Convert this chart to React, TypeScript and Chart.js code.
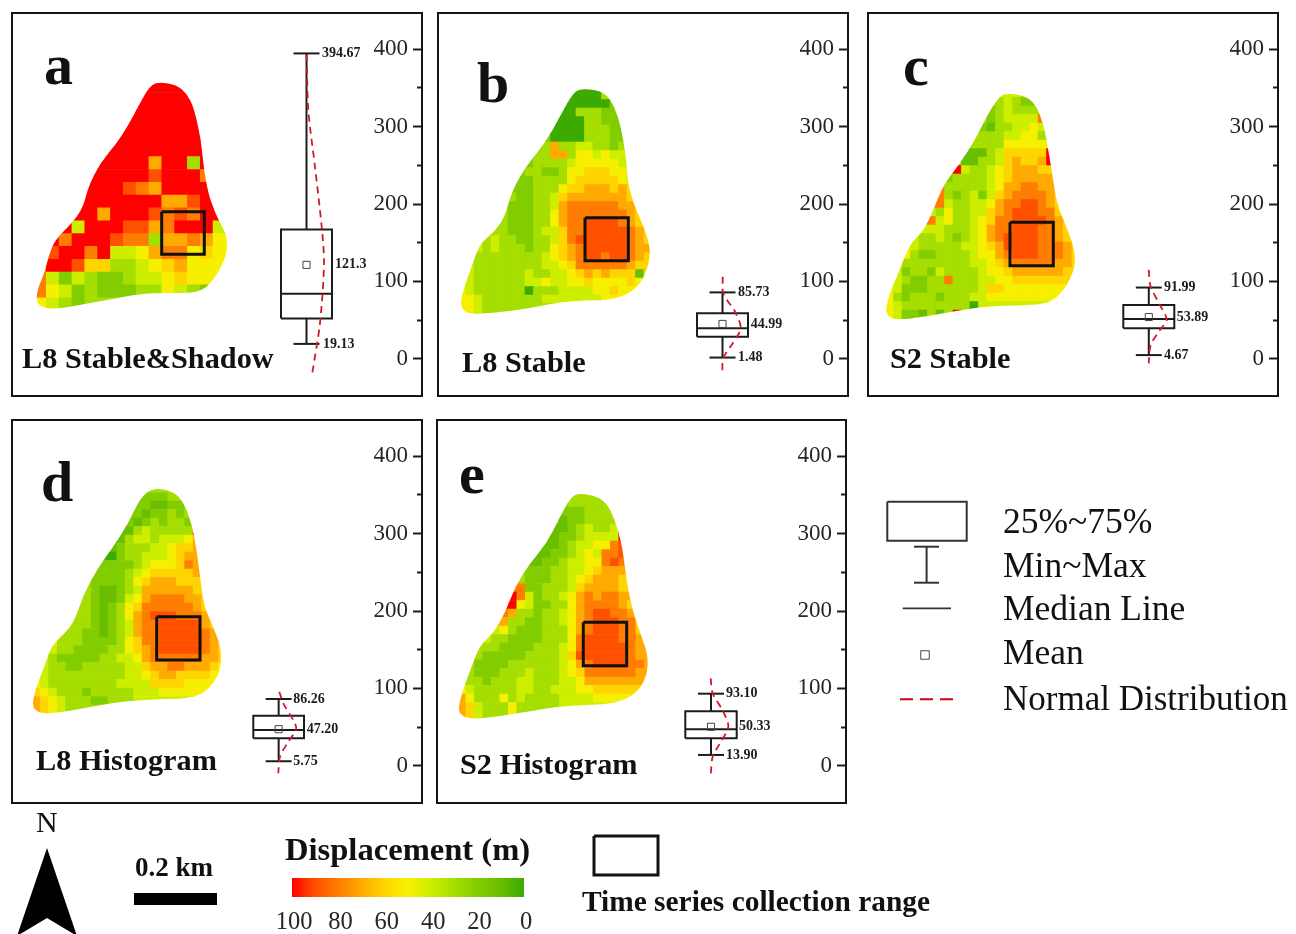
import React, { useEffect, useRef } from "react";
import { Chart, registerables } from "chart.js";

Chart.register(...registerables);

const SERIF = "'Liberation Serif', 'Times New Roman', serif";

// --- Axis ticks ---
const majorTicks = [0, 100, 200, 300, 400];
const minorTicks = [50, 150, 250, 350];
const colorbarTicks = [100, 80, 60, 40, 20, 0];

// --- Box statistics: min, q1, median, q3, max, mean ---
const boxA = [19.13, 52, 84, 167, 394.67, 121.3];
const boxB = [1.48, 28.4, 39.5, 58.7, 85.73, 44.99];
const boxC = [4.67, 39.3, 51.3, 69.4, 91.99, 53.89];
const boxD = [5.75, 35.4, 46.2, 64.6, 86.26, 47.2];
const boxE = [13.9, 35.4, 47.1, 70.3, 93.1, 50.33];

// --- Normal distribution curves ---
const curveAx = [306.7, 308.3, 315, 321.7, 324, 320, 312.3];
const curveAy = [392.7, 321.6, 247.9, 170.3, 123.7, 46.2, -18.4];
const curveBx = [722.7, 723.3, 735, 740.7, 732.7, 723.3, 722.3];
const curveBy = [106, 84.6, 60.8, 39.3, 19.9, 0.5, -21.1];
const curveCx = [1148.7, 1150.7, 1160, 1166.7, 1160, 1150.7, 1148.7];
const curveCy = [114.7, 93.1, 69.4, 50, 37.1, 17.7, -6];
const curveDx = [279.3, 283.3, 295, 296, 288.3, 280, 278.3];
const curveDy = [95.7, 80.7, 54.8, 46.2, 31, 11.6, -9.8];
const curveEx = [710.7, 712.7, 723.3, 728.3, 720, 712.7, 710.7];
const curveEy = [113, 93.6, 69.8, 50.4, 29, 11.6, -12];

// --- Displacement grids: one character per cell, tens of metres (X = 100) ---
const gridA = [
  "XXXX XXXX XXXX XXXX", "XXXX XXXX XXXX XXXX", "XXXX XXXX XXXX XXXX",
  "XXXX XXXX XXXX XXXX", "XXXX XXXX XXXX XXXX", "XXXX XXXX XXXX XXXX",
  "XXXX XXXX X7XX 3XXX", "XXXX XXXX X9XX X8XX", "XXXX XXX9 87XX XXXX",
  "XXXX XXXX XX77 9XXX", "XXXX X7XX X989 8XXX", "XXX4 XXX9 978X XX44",
  "XX8X XX98 8377 8755", "X9XX 8X44 5788 5655", "8XX9 6633 4567 5555",
  "8424 3223 4456 5555", "8542 3222 3354 3245", "5432 3333 3333 3333",
];
const gridB = [
  "00000 00000 00000 00333 333", "00000 00000 00000 00333 333", "00000 00000 00000 00022 222",
  "00000 00000 00003 33222 222", "00000 00000 00000 33222 222", "00000 00000 00000 33322 222",
  "22222 22222 20000 33322 222", "33333 33333 37334 43323 333", "33333 33333 37735 54544 444",
  "22222 22223 33345 55554 444", "33333 33233 22355 66655 444", "33333 33223 33356 66665 455",
  "33333 32223 33566 77767 655", "33333 33223 34677 77777 666", "33333 32223 34788 88887 766",
  "33333 32223 35788 88888 765", "44443 32223 35788 99998 765", "33333 32223 44688 99999 876",
  "44434 33223 34689 99999 876", "44434 33323 35678 99999 877", "44333 33333 45678 99899 876",
  "44333 33333 44568 88888 766", "44333 33343 34456 76766 616", "54333 33344 54455 65555 655",
  "54333 33303 33444 45565 555", "55433 33333 44444 44555 555", "55433 33333 33344 44444 444",
  "55433 33333 33333 33333 333",
];
const gridC = [
  "44444 44444 44444 43333 333", "33333 33333 33334 32222 222", "22222 22222 22234 33333 333",
  "22222 22222 23234 44484 444", "22222 22222 22133 44544 444", "33333 33333 33334 45534 444",
  "33333 33333 33335 55555 555", "11111 11111 11346 6666X 666", "33333 33331 13346 7667X 777",
  "33333 333X4 33456 77766 666", "33333 33233 33456 77777 666", "88888 88333 33457 78877 666",
  "88888 88323 42467 88887 666", "88888 88433 44578 89987 666", "44444 43533 44678 99988 666",
  "88888 84533 45688 99998 766", "44444 44333 45788 99988 766", "44443 34323 45789 99988 766",
  "55543 33334 45679 99988 876", "55532 23333 45578 99988 876", "55333 33333 44567 88888 776",
  "44233 24333 34556 77777 766", "44322 33833 34455 66666 665", "54222 33333 34665 55555 555",
  "53233 32333 44555 55555 555", "54333 33333 04444 44444 444", "54221 313X3 33333 33333 333",
  "54221 31333 33333 33333 333",
];
const gridD = [
  "33333 33333 33333 33333 333", "22222 22222 22222 23333 333", "22222 22222 22221 12233 333",
  "22222 22222 22212 23233 333", "22222 22222 22123 2332X 666", "11111 11111 11343 3333X 666",
  "11111 11111 13443 44457 777", "11111 11111 23334 45667 777", "00000 00000 23344 45677 777",
  "22222 22222 22345 55687 666", "22222 22222 23456 66667 666", "33333 33222 23567 77666 666",
  "33333 33211 23477 77776 666", "33333 33211 24578 88877 666", "33333 33212 35688 88887 665",
  "44444 33212 35789 99888 766", "44443 33212 34788 99999 766", "33333 32212 34788 99999 876",
  "55533 32222 35688 99999 876", "44433 22223 35678 99999 876", "44322 22233 44578 88888 776",
  "44332 23333 34467 78877 765", "44333 33333 34456 77666 655", "54333 33333 44446 66655 555",
  "65433 32333 33444 55555 555", "76543 33223 33444 44444 444", "76543 33333 33344 44444 444",
  "65433 33333 33333 33333 333",
];
const gridE = [
  "33333 33333 33333 33333 333", "22222 22222 22233 33332 222", "22222 22222 22222 33332 222",
  "11111 11111 12122 33334 444", "11111 11111 11123 4334X 444", "11111 11111 11223 4444X 444",
  "11111 11111 11234 45589 777", "11111 11111 12234 54889 777", "11111 11111 22344 55898 777",
  "22222 22222 23344 56777 666", "22222 22322 23345 67776 666", "88888 88822 33346 77776 666",
  "XXXXX XX842 33457 87887 777", "XXXXX XX542 23357 88887 666", "88888 87332 33457 89988 766",
  "77777 73322 33457 89998 866", "44444 53222 33357 89998 866", "44443 32222 33358 99998 876",
  "44333 22223 33458 99999 877", "43322 22233 33469 99999 877", "43222 23333 33457 89999 887",
  "43222 33343 33456 88888 877", "43323 33443 33445 77777 776", "54333 33443 34445 56666 665",
  "75333 53433 33444 45555 555", "76433 35333 33444 44444 444", "76433 35333 33333 33333 333",
  "76433 35333 33333 33333 333",
];

// --- Slide outlines, as (x, y) pairs measured at 3x from each panel's corner ---
const outlineA = [470,245,530,255,560,280,580,320,595,380,605,440,612,510,625,580,640,625,658,665,678,700,683,745,670,790,640,840,605,875,540,880,470,878,400,885,320,900,240,915,160,928,120,920,108,900,115,860,135,815,145,770,165,720,220,665,250,620,265,560,300,490,350,430,385,375,420,310,445,265];
const outlineB = [450,265,510,272,540,295,565,350,580,420,590,490,592,540,610,610,635,665,655,720,662,770,640,840,600,880,540,900,470,902,390,905,300,925,200,938,110,943,90,915,100,870,125,800,150,730,190,700,225,650,245,575,290,495,345,430,390,350,425,285];
const outlineC = [435,280,490,285,525,310,550,370,565,450,578,530,590,610,615,670,640,735,647,790,630,840,600,885,560,912,470,917,390,918,300,930,200,950,110,960,75,945,85,890,115,820,150,730,190,695,220,630,250,555,300,490,345,420,385,340,415,295];
const outlineD = [460,232,520,245,550,275,575,340,590,420,600,500,612,590,640,650,665,720,660,790,620,845,570,865,480,868,390,872,300,885,200,905,130,912,95,895,105,840,130,780,155,705,195,670,225,630,250,555,290,480,340,410,385,340,420,265];
const outlineE = [445,248,510,262,540,295,565,360,580,430,590,520,610,610,635,680,655,740,650,800,620,850,560,880,470,885,380,890,290,905,200,920,120,928,82,910,95,850,125,770,150,705,190,670,225,610,255,530,300,460,350,400,385,330,420,265];

// --- Colour ramp of the displacement scale ---
const rampStops: [number, number[]][] = [
  [0, [60, 170, 0]], [10, [105, 190, 0]], [20, [130, 205, 0]], [30, [165, 222, 0]], [40, [206, 238, 0]], [50, [246, 240, 0]],
  [60, [255, 213, 0]], [70, [255, 170, 0]], [80, [255, 125, 0]], [90, [255, 80, 0]], [100, [255, 0, 0]],
];
function rampColor(v: number) {
  for (let i = 1; i < rampStops.length; i++) {
    const [v1, c1] = rampStops[i];
    const [v0, c0] = rampStops[i - 1];
    if (v <= v1) {
      const t = (v - v0) / (v1 - v0);
      const c = c0.map((a, k) => Math.round(a + (c1[k] - a) * t));
      return `rgb(${c[0]},${c[1]},${c[2]})`;
    }
  }
  return "rgb(255,0,0)";
}

// --- Layout of each panel, in page pixels ---
const panels = [
  { frame: [11, 12, 423, 397], zero: 358.7, box: [281, 332, 13], zoom: [0, 0], grid: gridA, cell: 12.83, gridAt: [100.5, 239], outline: outlineA, square: [161.7, 211.7, 204.3, 254.3], stats: boxA, cx: curveAx, cy: curveAy, labels: ["394.67", "121.3", "19.13"], labelX: [322, 335, 323] },
  { frame: [437, 12, 849, 397], zero: 358.7, box: [697, 748, 13], zoom: [430, 0], grid: gridB, cell: 8.5, gridAt: [81, 248], outline: outlineB, square: [585, 217.7, 628.3, 260.7], stats: boxB, cx: curveBx, cy: curveBy, labels: ["85.73", "44.99", "1.48"], labelX: [738, 750.7, 738] },
  { frame: [867, 12, 1279, 397], zero: 358.7, box: [1123.3, 1174.3, 13], zoom: [860, 0], grid: gridC, cell: 8.5, gridAt: [75, 267.5], outline: outlineC, square: [1010, 222.3, 1053.3, 265.7], stats: boxC, cx: curveCx, cy: curveCy, labels: ["91.99", "53.89", "4.67"], labelX: [1164, 1176.7, 1164] },
  { frame: [11, 419, 423, 804], zero: 765.7, box: [253.3, 304, 13], zoom: [0, 410], grid: gridD, cell: 8.5, gridAt: [95, 222], outline: outlineD, square: [156.7, 616.7, 200, 660], stats: boxD, cx: curveDx, cy: curveDy, labels: ["86.26", "47.20", "5.75"], labelX: [293.3, 306.7, 293.3] },
  { frame: [436, 419, 847, 804], zero: 765.7, box: [685.3, 736.7, 13], zoom: [430, 410], grid: gridE, cell: 8.5, gridAt: [82, 240], outline: outlineE, square: [583.3, 622.3, 626.7, 665.7], stats: boxE, cx: curveEx, cy: curveEy, labels: ["93.10", "50.33", "13.90"], labelX: [726, 739, 726] },
];
const PX_PER_UNIT = 0.7735;
const BORDER = 2;
const INK = "#1c1c1c";
const RED = "#d4182c";

function line(xs: number[], ys: number[], yAxisID: string, extra: any = {}) {
  return {
    data: xs.map((x, i) => ({ x, y: ys[i] })),
    showLine: true,
    pointRadius: 0,
    borderColor: INK,
    borderWidth: 2,
    backgroundColor: "transparent",
    yAxisID,
    ...extra,
  };
}

function decodeGrid(rows: string[], at: number[], zoom: number[], cell: number) {
  const cells: { x: number; y: number; v: number }[] = [];
  rows.forEach((row, r) => {
    row.replace(/ /g, "").split("").forEach((ch, c) => {
      cells.push({
        x: zoom[0] + at[0] / 3 + (c + 0.5) * cell,
        y: zoom[1] + at[1] / 3 + (r + 0.5) * cell,
        v: ch === "X" ? 100 : Number(ch) * 10,
      });
    });
  });
  return cells;
}

function panelConfig(p: (typeof panels)[number]) {
  const [left, top, right, bottom] = p.frame;
  const iL = left + BORDER, iT = top + BORDER, iR = right - BORDER, iB = bottom - BORDER;
  const yMin = (p.zero - iB) / PX_PER_UNIT;
  const yMax = (p.zero - iT) / PX_PER_UNIT;
  const [bL, bR, cap] = p.box;
  const mid = (bL + bR) / 2;
  const [mn, q1, med, q3, mx, mean] = p.stats;
  const [sL, sT, sR, sB] = p.square;

  const outlinePx: number[][] = [];
  for (let i = 0; i < p.outline.length; i += 2) {
    outlinePx.push([p.zoom[0] + p.outline[i] / 3, p.zoom[1] + p.outline[i + 1] / 3]);
  }

  const clipPlugin = {
    id: "slideClip",
    beforeDatasetDraw(chart: any, args: any) {
      if (args.index !== 0) return;
      const { ctx, scales } = chart;
      const pts = outlinePx.map(([x, y]) => [scales.x.getPixelForValue(x), scales.my.getPixelForValue(y)]);
      ctx.save();
      ctx.beginPath();
      const n = pts.length;
      ctx.moveTo((pts[n - 1][0] + pts[0][0]) / 2, (pts[n - 1][1] + pts[0][1]) / 2);
      for (let i = 0; i < n; i++) {
        const a = pts[i], b = pts[(i + 1) % n];
        ctx.quadraticCurveTo(a[0], a[1], (a[0] + b[0]) / 2, (a[1] + b[1]) / 2);
      }
      ctx.closePath();
      ctx.clip();
    },
    afterDatasetDraw(chart: any, args: any) {
      if (args.index === 0) chart.ctx.restore();
    },
  };

  const labelPlugin = {
    id: "boxLabels",
    afterDatasetsDraw(chart: any) {
      const { ctx, scales } = chart;
      ctx.save();
      ctx.font = `bold 14px ${SERIF}`;
      ctx.fillStyle = INK;
      ctx.textAlign = "left";
      ctx.textBaseline = "middle";
      [mx, mean, mn].forEach((v, i) => {
        ctx.fillText(p.labels[i], scales.x.getPixelForValue(p.labelX[i]), scales.y.getPixelForValue(v));
      });
      ctx.restore();
    },
  };

  const ticksFrom = (values: number[]) => (scale: any) => {
    scale.ticks = values.map((value) => ({ value }));
  };
  const zeroFit = (scale: any) => {
    scale.width = 0;
    scale.paddingTop = 0;
    scale.paddingBottom = 0;
  };

  return {
    type: "scatter",
    data: {
      datasets: [
        {
          data: decodeGrid(p.grid, p.gridAt, p.zoom, p.cell),
          yAxisID: "my",
          pointStyle: "rect",
          pointRadius: (p.cell + 0.7) * Math.SQRT1_2,
          pointBorderWidth: 0,
          pointBackgroundColor: (c: any) => rampColor(c.raw ? c.raw.v : 0),
          order: 20,
        },
        line([sL, sR, sR, sL, sL], [sT, sT, sB, sB, sT], "my", { borderWidth: 3, borderColor: "#101010", order: 10 }),
        line([bL, bR, bR, bL, bL], [q1, q1, q3, q3, q1], "y", { order: 5 }),
        line([bL, bR], [med, med], "y", { order: 5 }),
        line([mid, mid], [q3, mx], "y", { order: 5 }),
        line([mid, mid], [q1, mn], "y", { order: 5 }),
        line([mid - cap, mid + cap], [mx, mx], "y", { order: 5 }),
        line([mid - cap, mid + cap], [mn, mn], "y", { order: 5 }),
        {
          data: [{ x: mid, y: mean }],
          yAxisID: "y",
          pointStyle: "rect",
          pointRadius: 5,
          pointBorderWidth: 1,
          pointBorderColor: "#444",
          pointBackgroundColor: "transparent",
          order: 4,
        },
        line(p.cx, p.cy, "y", { borderColor: RED, borderDash: [7, 5], borderWidth: 1.8, tension: 0.3, order: 1 }),
      ],
    },
    options: {
      animation: false,
      responsive: false,
      devicePixelRatio: 1,
      layout: { padding: 0, autoPadding: false },
      plugins: { legend: { display: false }, tooltip: { enabled: false } },
      events: [],
      scales: {
        x: { type: "linear", min: iL, max: iR, display: false },
        my: { type: "linear", min: iT, max: iB, reverse: true, display: false },
        y: {
          type: "linear",
          position: "right",
          min: yMin,
          max: yMax,
          afterBuildTicks: ticksFrom(majorTicks),
          afterFit: zeroFit,
          border: { display: false },
          grid: { drawOnChartArea: false, drawTicks: true, tickLength: -8, tickWidth: 2, tickColor: INK },
          ticks: { mirror: true, padding: -13, autoSkip: false, color: "#262626", font: { family: SERIF, size: 23 } },
        },
        yMinor: {
          type: "linear",
          position: "right",
          min: yMin,
          max: yMax,
          afterBuildTicks: ticksFrom(minorTicks),
          afterFit: zeroFit,
          border: { display: false },
          grid: { drawOnChartArea: false, drawTicks: true, tickLength: -4, tickWidth: 2, tickColor: INK },
          ticks: { display: false, autoSkip: false },
        },
      },
    },
    plugins: [clipPlugin, labelPlugin],
  };
}

function colorbarConfig() {
  return {
    type: "bar",
    data: {
      labels: ["Displacement"],
      datasets: [
        {
          data: [100],
          barPercentage: 1,
          categoryPercentage: 1,
          backgroundColor: (c: any) => {
            const area = c.chart.chartArea;
            if (!area) return "#ccc";
            const g = c.chart.ctx.createLinearGradient(area.left, 0, area.right, 0);
            rampStops.forEach(([v]) => g.addColorStop(1 - v / 100, rampColor(v)));
            return g;
          },
        },
      ],
    },
    options: {
      indexAxis: "y",
      animation: false,
      responsive: false,
      devicePixelRatio: 1,
      layout: { padding: { left: 20, right: 20 }, autoPadding: false },
      plugins: { legend: { display: false }, tooltip: { enabled: false } },
      events: [],
      scales: {
        y: { display: false },
        x: {
          type: "linear",
          reverse: true,
          min: 0,
          max: 100,
          afterBuildTicks: (s: any) => {
            s.ticks = colorbarTicks.map((value) => ({ value }));
          },
          afterFit: (s: any) => {
            s.height = 37;
            s.paddingLeft = 0;
            s.paddingRight = 0;
          },
          border: { display: false },
          grid: { display: false, drawTicks: false },
          ticks: { autoSkip: false, maxRotation: 0, padding: 11, labelOffset: 2, color: "#262626", font: { family: SERIF, size: 24.5 } },
        },
      },
    },
  };
}

// --- Page annotations ---
const pageTexts: [string, number, number, string][] = [
  ["a", 44, 84, "bold 58px"],
  ["b", 477, 102, "bold 58px"],
  ["c", 903, 85, "bold 58px"],
  ["d", 41, 501, "bold 58px"],
  ["e", 459, 493, "bold 58px"],
  ["L8 Stable&Shadow", 22, 368, "bold 30.3px"],
  ["L8 Stable", 462, 372, "bold 30.3px"],
  ["S2 Stable", 890, 368, "bold 30.3px"],
  ["L8 Histogram", 36, 770, "bold 30.3px"],
  ["S2 Histogram", 460, 774, "bold 30.3px"],
  ["25%~75%", 1003, 533, "35.5px"],
  ["Min~Max", 1003, 577, "35.5px"],
  ["Median Line", 1003, 620, "35.5px"],
  ["Mean", 1003, 664, "35.5px"],
  ["Normal Distribution", 1003, 710, "35px"],
  ["N", 36, 832, "30px"],
  ["0.2 km", 135, 876, "bold 27px"],
  ["Displacement (m)", 285, 860, "bold 32.6px"],
  ["Time series collection range", 582, 911, "bold 29.4px"],
];
const arrowX = [47, 77, 47, 17, 47];
const arrowY = [848, 936, 918, 936, 848];
const scaleBarX = [134, 217];
const scaleBarY = [899, 899];

function overlayConfig() {
  const textPlugin = {
    id: "pageText",
    afterDatasetsDraw(chart: any) {
      const { ctx, scales } = chart;
      ctx.save();
      ctx.fillStyle = "#111";
      ctx.textBaseline = "alphabetic";
      ctx.textAlign = "left";
      pageTexts.forEach(([t, x, y, font]) => {
        ctx.font = `${font} ${SERIF}`;
        ctx.fillText(t, scales.x.getPixelForValue(x), scales.y.getPixelForValue(y));
      });
      ctx.restore();
    },
  };
  return {
    type: "scatter",
    data: {
      datasets: [
        line([887.3, 966.7, 966.7, 887.3, 887.3], [501.7, 501.7, 540.7, 540.7, 501.7], "y", { borderColor: "#333", borderWidth: 2 }),
        line([914, 939], [546.7, 546.7], "y", { borderColor: "#333", borderWidth: 2 }),
        line([914, 939], [582.7, 582.7], "y", { borderColor: "#333", borderWidth: 2 }),
        line([926.6, 926.6], [546.7, 582.7], "y", { borderColor: "#333", borderWidth: 2 }),
        line([902.7, 951], [608.3, 608.3], "y", { borderColor: "#333", borderWidth: 1.7 }),
        { data: [{ x: 925, y: 655 }], yAxisID: "y", pointStyle: "rect", pointRadius: 6, pointBorderWidth: 1, pointBorderColor: "#444", pointBackgroundColor: "transparent" },
        line([900, 953], [699.3, 699.3], "y", { borderColor: "#d0021b", borderWidth: 2, borderDash: [13, 7] }),
        line(arrowX, arrowY, "y", { borderColor: "#000", borderWidth: 0, backgroundColor: "#000", fill: "shape" }),
        line(scaleBarX, scaleBarY, "y", { borderColor: "#000", borderWidth: 12 }),
        line([594, 658, 658, 594, 594], [836, 836, 875, 875, 836], "y", { borderColor: "#111", borderWidth: 3 }),
      ],
    },
    options: {
      animation: false,
      responsive: false,
      devicePixelRatio: 1,
      layout: { padding: 0, autoPadding: false },
      plugins: { legend: { display: false }, tooltip: { enabled: false } },
      events: [],
      scales: {
        x: { type: "linear", min: 0, max: 1296, display: false },
        y: { type: "linear", min: 0, max: 934, reverse: true, display: false },
      },
    },
    plugins: [textPlugin],
  };
}

function ChartCanvas({ makeConfig, style, width, height }: any) {
  const ref = useRef<HTMLCanvasElement>(null);
  useEffect(() => {
    const chart = new Chart(ref.current as HTMLCanvasElement, makeConfig());
    return () => chart.destroy();
  }, []);
  return <canvas ref={ref} width={width} height={height} style={{ position: "absolute", display: "block", ...style }} />;
}

export default function App() {
  useEffect(() => {
    document.body.style.margin = "0";
    document.body.style.overflow = "hidden";
    document.body.style.background = "#fff";
  }, []);
  return (
    <div style={{ position: "absolute", left: 0, top: 0, width: 1296, height: 934, overflow: "hidden", background: "#fff" }}>
      {panels.map((p, i) => {
        const [l, t, r, b] = p.frame;
        const w = r - l - 2 * BORDER;
        const h = b - t - 2 * BORDER;
        return (
          <div key={i} style={{ position: "absolute", left: l, top: t, width: w, height: h, border: `${BORDER}px solid #161616` }}>
            <ChartCanvas makeConfig={() => panelConfig(p)} width={w} height={h} style={{ left: 0, top: 0, width: w, height: h }} />
          </div>
        );
      })}
      <ChartCanvas makeConfig={colorbarConfig} width={272} height={56} style={{ left: 272, top: 878, width: 272, height: 56 }} />
      <ChartCanvas makeConfig={overlayConfig} width={1296} height={934} style={{ left: 0, top: 0, width: 1296, height: 934, pointerEvents: "none" }} />
    </div>
  );
}
